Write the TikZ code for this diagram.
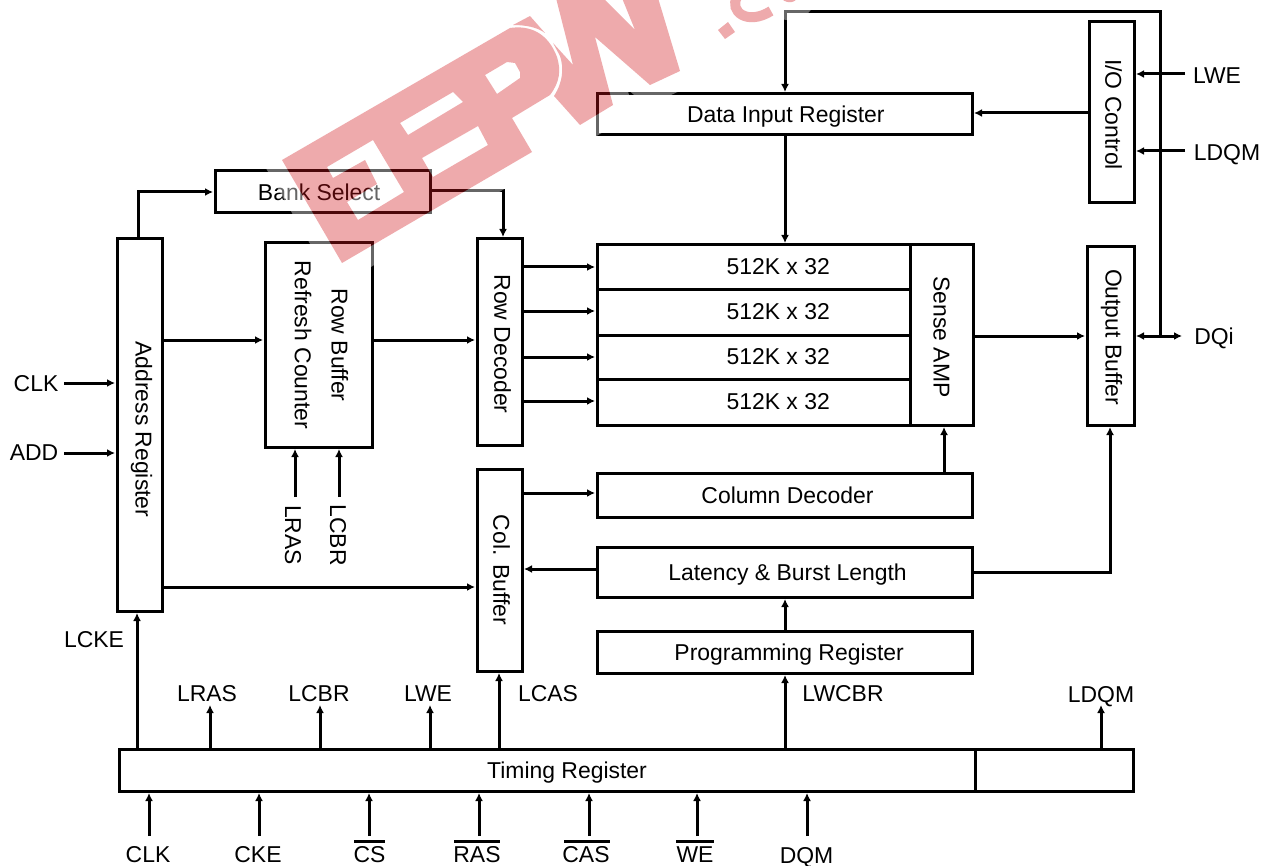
\documentclass[tikz,border=0pt]{standalone}
\usepackage{fontspec}
\usepackage{graphicx}
\setmainfont{Liberation Sans}
\usetikzlibrary{arrows.meta}
\tikzset{
  x=0.75pt,y=-0.75pt,
  boxed/.style={draw=black,line width=2.25pt,fill=white,inner sep=0pt,outer sep=0pt,align=center},
  wire/.style={draw=black,line width=2.25pt},
  arr/.style={wire,-{Latex[length=6pt,width=6pt]},shorten >=1.5pt},
  lbl/.style={inner sep=0pt,outer sep=0pt},
}
\definecolor{wmred}{RGB}{209,20,26}
\newcommand{\pxbox}[6]{\node[boxed,minimum width={(#4-#2)*0.75pt},minimum height={(#5-#3)*0.75pt}] (#1) at ({(#2+#4)/2},{(#3+#5)/2}) {#6};}
\newcommand{\vtext}[1]{\rotatebox{-90}{#1}}
\newcommand{\nodp}[1]{\raisebox{0pt}[\height][0pt]{#1}}
\newcommand{\wmpath}{(282,160) -- (510,28) .. controls (530,25) and (548,33) .. (557,57) .. controls (561,70) and (560,82) .. (550,95) -- (512,118) -- (532,152) -- (342,263) -- cycle
 (485,75) -- (507,62) -- (515,63) -- (520,72) -- (520,78) -- (497,94) -- cycle
 (400,123) -- (453,92) -- (463,102) -- (408,135) -- cycle
 (422,158) -- (478,126) -- (488,145) -- (433,177) -- cycle
 (327,167) -- (373,140) -- (404,192) -- (358,220) -- (347,202) -- (377,184) -- (365,160) -- (333,178) -- cycle}
\newcommand{\wmtwo}{(513,25) -- (530,16) -- (545,33) .. controls (537,27) and (525,25) .. (513,25) -- cycle
 (556,-2) -- (603,-2) -- (635,30) -- (622,-2) -- (658,-2) -- (680,71) -- (650,85) -- (595,37) -- (613,105) -- (580,125) -- (554,96) .. controls (563,82) and (564,68) .. (560,56) -- (553,43) -- (573,65) -- cycle
 (718,30) -- (728,22) -- (735,32) -- (725,39) -- cycle
 (780,-3) -- (798,-3) .. controls (795,4) and (785,4) .. (780,-3) -- cycle}
\begin{document}
\begin{tikzpicture}[font=\fontsize{17.2}{27.5}\selectfont]
\useasboundingbox (0,0) rectangle (1270,866);
\fill[white] (0,0) rectangle (1270,866);
% boxes
\pxbox{datain}{597}{94}{972}{135}{\hspace*{2pt}\nodp{Data Input Register}}
\pxbox{ioctl}{1089}{22}{1134}{203}{\hspace*{3pt}\vtext{\hspace*{3pt}I/O Control}}
\pxbox{banksel}{215}{171}{430}{213}{\nodp{Bank Select}\hspace*{5pt}}
\pxbox{addr}{117}{239}{162}{611}{\hspace*{3pt}\vtext{\hspace*{6.5pt}Address Register}}
\pxbox{rowbuf}{265}{243}{372}{447}{\hspace*{3pt}\vtext{\begin{tabular}{@{}c@{}}Row Buffer\\Refresh Counter\end{tabular}}}
\pxbox{rowdec}{477}{239}{522}{445}{\hspace*{4.5pt}\vtext{\hspace*{3pt}Row Decoder}}
\pxbox{memA}{597}{245}{910}{289}{\hspace*{37pt}512K x 32}
\pxbox{memB}{597}{289}{910}{335}{\hspace*{37pt}512K x 32}
\pxbox{memC}{597}{335}{910}{379}{\hspace*{37pt}512K x 32}
\pxbox{memD}{597}{379}{910}{425}{\hspace*{37pt}512K x 32}
\pxbox{sense}{910}{245}{973}{425}{\vtext{\hspace*{3pt}Sense AMP}}
\pxbox{outbuf}{1087}{247}{1134}{425}{\hspace*{1.5pt}\vtext{\hspace*{1.5pt}Output Buffer}}
\pxbox{colbuf}{477}{469}{522}{671}{\hspace*{3pt}\vtext{Col. Buffer}}
\pxbox{coldec}{597}{473}{972}{517}{\hspace*{4.5pt}Column Decoder}
\pxbox{latency}{597}{547}{972}{597}{\hspace*{4.5pt}\nodp{Latency \& Burst Length}}
\pxbox{prog}{597}{631}{972}{673}{\hspace*{7pt}\nodp{Programming Register}}
\pxbox{timing}{119}{749}{975}{791}{\hspace*{30pt}\nodp{Timing Register}}
\pxbox{timingB}{975}{749}{1133}{791}{}
% text labels
\node[lbl] (tLWE) at (1217,76) {LWE};
\node[lbl] (tLDQMr) at (1227,152) {\nodp{LDQM}};
\node[lbl] (tDQi) at (1214,336) {\nodp{DQi}};
\node[lbl] (tCLKl) at (36,384) {CLK};
\node[lbl] (tADD) at (34,453) {ADD};
\node[lbl] (tLRASv) at (293,535) {\vtext{LRAS}};
\node[lbl] (tLCBRv) at (338,535) {\vtext{LCBR}};
\node[lbl] (tLCKE) at (94,640) {LCKE};
\node[lbl] (tLRAS) at (207,694) {LRAS};
\node[lbl] (tLCBR) at (319,694) {LCBR};
\node[lbl] (tLWEb) at (428,694) {LWE};
\node[lbl] (tLCAS) at (548,694) {LCAS};
\node[lbl] (tLWCBR) at (843,694) {LWCBR};
\node[lbl] (tLDQM) at (1101,694) {\nodp{LDQM}};
\node[lbl] (tCLK) at (148,855) {CLK};
\node[lbl] (tCKE) at (258,855) {CKE};
\node[lbl] (tCS) at (369.5,855) {CS};
\node[lbl] (tRAS) at (477,855) {RAS};
\node[lbl] (tCAS) at (586,855) {CAS};
\node[lbl] (tWE) at (695,855) {WE};
\node[lbl] (tDQM) at (806.5,855) {\nodp{DQM}};
% overbars
\draw[wire] (354,841) -- (385,841);
\draw[wire] (454,841) -- (500,841);
\draw[wire] (564,841) -- (610,841);
\draw[wire] (676,841) -- (714,841);
% free ends
\coordinate (top) at (785,12);
\coordinate (jn) at (1160,336);
\coordinate (fLWE) at (1185,74);
\coordinate (fLDQM) at (1185,151);
\coordinate (fDQi) at (1182,336);
\coordinate (fCLK) at (64,383);
\coordinate (fADD) at (64,453);
\coordinate (fLRAS) at (295,497);
\coordinate (fLCBR) at (339,497);
\coordinate (uLRAS) at (210,705);
\coordinate (uLCBR) at (320,705);
\coordinate (uLWE) at (430,705);
\coordinate (uLDQM) at (1101,705);
\coordinate (iCLK) at (149,836);
\coordinate (iCKE) at (259,836);
\coordinate (iCS) at (369,836);
\coordinate (iRAS) at (479,836);
\coordinate (iCAS) at (589,836);
\coordinate (iWE) at (697,836);
\coordinate (iDQM) at (807,836);
% connectors
\draw[arr] (jn) |- (top) -- (top |- datain.north);
\draw[arr] (datain.south -| top) -- (top |- memA.north);
\draw[arr] (ioctl.west |- 0,113) -- (datain.east |- 0,113);
\draw[arr] (fLWE) -- (fLWE -| ioctl.east);
\draw[arr] (fLDQM) -- (fLDQM -| ioctl.east);
\draw[arr] (jn) -- (jn -| outbuf.east);
\draw[arr,shorten >=0pt] (jn) -- (fDQi);
\draw[arr] (sense.east |- jn) -- (outbuf.west |- jn);
\draw[arr] (latency.east |- 0,572) -| (outbuf.south -| 1110,0);
\draw[arr] (coldec.north -| 944,0) -- (sense.south -| 944,0);
\draw[arr] (colbuf.east |- 0,493) -- (coldec.west |- 0,493);
\draw[arr] (latency.west |- 0,569) -- (colbuf.east |- 0,569);
\draw[arr] (prog.north -| top) -- (latency.south -| top);
\draw[arr] (timing.north -| top) -- (prog.south -| top);
\draw[arr] (rowdec.east |- 0,267) -- (memA.west |- 0,267);
\draw[arr] (rowdec.east |- 0,311) -- (memB.west |- 0,311);
\draw[arr] (rowdec.east |- 0,357) -- (memC.west |- 0,357);
\draw[arr] (rowdec.east |- 0,401) -- (memD.west |- 0,401);
\draw[arr] (rowbuf.east |- 0,340) -- (rowdec.west |- 0,340);
\draw[arr] (addr.east |- 0,340) -- (rowbuf.west |- 0,340);
\draw[arr] (addr.north -| 138,0) |- (banksel.west |- 0,192);
\draw[arr] (banksel.east |- 0,191) -| (rowdec.north -| 503,0);
\draw[arr] (addr.east |- 0,587) -- (colbuf.west |- 0,587);
\draw[arr] (fCLK) -- (fCLK -| addr.west);
\draw[arr] (fADD) -- (fADD -| addr.west);
\draw[arr] (fLRAS) -- (fLRAS |- rowbuf.south);
\draw[arr] (fLCBR) -- (fLCBR |- rowbuf.south);
\draw[arr] (timing.north -| 137,0) -- (addr.south -| 137,0);
\draw[arr,shorten >=0pt] (uLRAS |- timing.north) -- (uLRAS);
\draw[arr,shorten >=0pt] (uLCBR |- timing.north) -- (uLCBR);
\draw[arr,shorten >=0pt] (uLWE |- timing.north) -- (uLWE);
\draw[arr] (timing.north -| 499,0) -- (colbuf.south -| 499,0);
\draw[arr,shorten >=0pt] (uLDQM |- timingB.north) -- (uLDQM);
\draw[arr] (iCLK) -- (iCLK |- timing.south);
\draw[arr] (iCKE) -- (iCKE |- timing.south);
\draw[arr] (iCS) -- (iCS |- timing.south);
\draw[arr] (iRAS) -- (iRAS |- timing.south);
\draw[arr] (iCAS) -- (iCAS |- timing.south);
\draw[arr] (iWE) -- (iWE |- timing.south);
\draw[arr] (iDQM) -- (iDQM |- timing.south);
% watermark: pale halo outside the pink, then the pink
\begin{scope}[even odd rule]
\clip (0,0) rectangle (1270,866) \wmpath \wmtwo;
\path[draw=white,opacity=0.4,line width=27pt,line join=round] \wmpath \wmtwo (735,-2) .. controls (727,12) and (745,28) .. (770,12);
\end{scope}
\begin{scope}
\clip (0,0) rectangle (1270,866);
\fill[even odd rule,fill=wmred,opacity=0.36] \wmpath;
\fill[fill=wmred,opacity=0.36] \wmtwo;
\draw[draw=wmred,opacity=0.36,line width=7.5pt] (737,-3) .. controls (729,11) and (747,26) .. (771,11);
\end{scope}
\end{tikzpicture}
\end{document}
